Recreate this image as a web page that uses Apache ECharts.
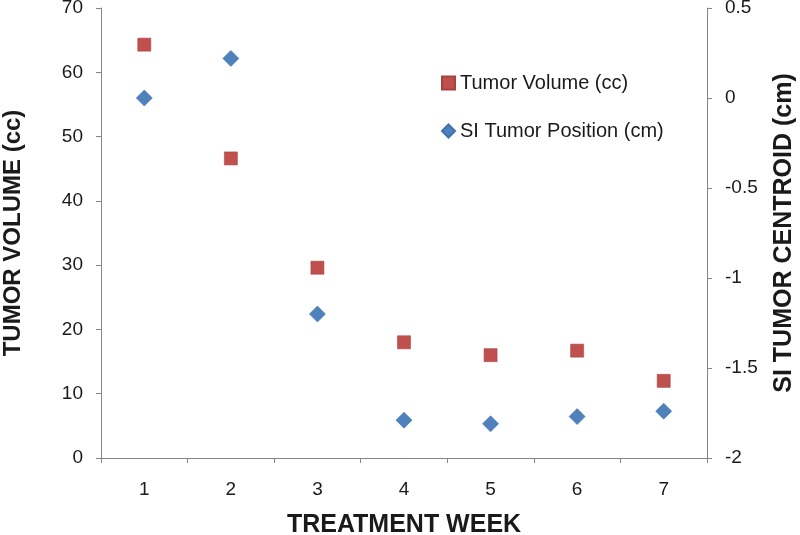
<!DOCTYPE html>
<html>
<head>
<meta charset="utf-8">
<script src="https://cdn.jsdelivr.net/npm/echarts@6/dist/echarts.min.js"></script>
<style>html,body{margin:0;padding:0;background:#fff;overflow:hidden}#c{width:800px;height:535px}</style>
</head>
<body>
<div id="c"></div>
<script>
var weeks = ['1', '2', '3', '4', '5', '6', '7'];
var tumorVolume = [64.3, 46.6, 29.6, 18.0, 16.0, 16.7, 12.0];
var siPosition = [0.0, 0.22, -1.2, -1.79, -1.81, -1.77, -1.74];
var volumeTicks = {min: 0, max: 70, interval: 10};
var positionTicks = {min: -2, max: 0.5, interval: 0.5};

var font = 'Liberation Sans, Arial, sans-serif';
var chart = echarts.init(document.getElementById('c'));
var titleStyle = {fontSize: 25, fontWeight: 'bold', color: '#1a1a1a', fontFamily: font};
chart.setOption({
  animation: false,
  textStyle: {fontFamily: font},
  grid: {left: 101, right: 93, top: 8, bottom: 77, containLabel: false, outerBoundsMode: 'none'},
  legend: {
    orient: 'vertical', left: 436, top: 68,
    itemWidth: 13, itemHeight: 13, itemGap: 28,
    textStyle: {fontSize: 20, color: '#1a1a1a', fontFamily: font, lineHeight: 20},
    data: ['Tumor Volume (cc)', 'SI Tumor Position (cm)']
  },
  xAxis: {
    type: 'category', data: weeks, boundaryGap: true,
    name: 'TREATMENT WEEK', nameLocation: 'middle', nameGap: 55,
    nameTextStyle: titleStyle,
    axisLine: {lineStyle: {color: '#868686', width: 1}},
    axisTick: {show: true, alignWithLabel: false, length: 5, inside: false, lineStyle: {color: '#868686'}},
    axisLabel: {fontSize: 19, color: '#1a1a1a', margin: 22, fontFamily: font},
    splitLine: {show: false}
  },
  yAxis: [{
    type: 'value', position: 'left',
    min: volumeTicks.min, max: volumeTicks.max, interval: volumeTicks.interval,
    name: 'TUMOR VOLUME (cc)', nameLocation: 'middle', nameGap: 76, nameRotate: 90,
    nameTextStyle: {fontSize: 24, fontWeight: 'bold', color: '#1a1a1a', fontFamily: font},
    axisLine: {show: true, lineStyle: {color: '#868686'}},
    axisTick: {show: true, length: 5, lineStyle: {color: '#868686'}},
    axisLabel: {fontSize: 19, color: '#1a1a1a', margin: 18, fontFamily: font},
    splitLine: {show: false}
  }, {
    type: 'value', position: 'right',
    min: positionTicks.min, max: positionTicks.max, interval: positionTicks.interval,
    name: 'SI TUMOR CENTROID (cm)', nameLocation: 'middle', nameGap: 65, nameRotate: 90,
    nameTextStyle: titleStyle,
    axisLine: {show: true, lineStyle: {color: '#868686'}},
    axisTick: {show: true, length: 5, lineStyle: {color: '#868686'}},
    axisLabel: {fontSize: 19, color: '#1a1a1a', margin: 18, fontFamily: font},
    splitLine: {show: false}
  }],
  series: [{
    name: 'Tumor Volume (cc)', type: 'scatter', yAxisIndex: 0,
    symbol: 'rect', symbolSize: 13,
    itemStyle: {color: '#C0504D', opacity: 1, borderColor: '#A8423F', borderWidth: 0.6},
    data: tumorVolume
  }, {
    name: 'SI Tumor Position (cm)', type: 'scatter', yAxisIndex: 1,
    symbol: 'diamond', symbolSize: 16,
    itemStyle: {color: '#4F81BD', opacity: 1, borderColor: '#4272AC', borderWidth: 0.6},
    data: siPosition
  }]
});
</script>
</body>
</html>
